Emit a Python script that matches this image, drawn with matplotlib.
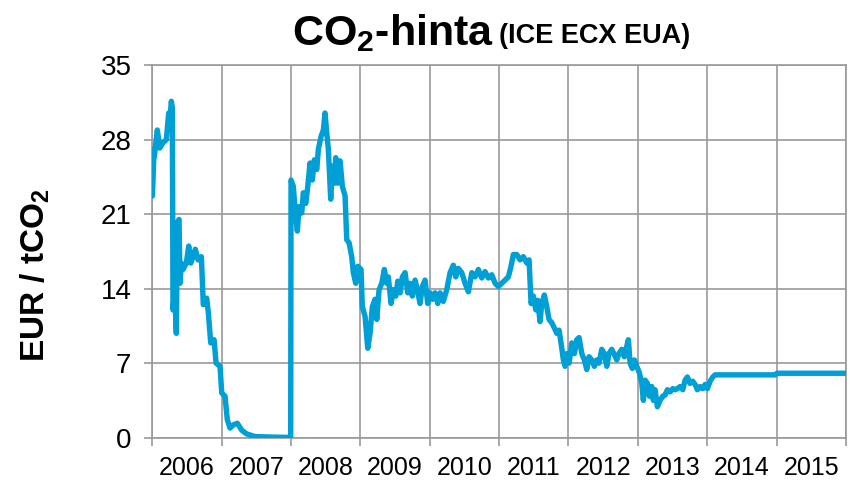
"""CO2 price chart (ICE ECX EUA), 2006-2015
"""
import matplotlib
matplotlib.use("Agg")
import matplotlib.pyplot as plt
import numpy as np

plt.rcParams['font.family'] = ['Liberation Sans', 'DejaVu Sans']
plt.rcParams['mathtext.fontset'] = 'custom'
plt.rcParams['mathtext.rm'] = 'Liberation Sans'
plt.rcParams['mathtext.bf'] = 'Liberation Sans:bold'

# decimal year, price EUR/tCO2
years = [
	2006.000, 2006.010, 2006.025, 2006.029, 2006.072, 2006.107, 2006.154, 2006.202,
	2006.236, 2006.251, 2006.274, 2006.288, 2006.298, 2006.323, 2006.346, 2006.360,
	2006.385, 2006.399, 2006.418, 2006.443, 2006.490, 2006.525, 2006.554, 2006.587,
	2006.620, 2006.659, 2006.707, 2006.735, 2006.784, 2006.808, 2006.842, 2006.890,
	2006.919, 2006.976, 2007.001, 2007.048, 2007.081, 2007.120, 2007.168, 2007.226,
	2007.289, 2007.361, 2007.481, 2007.745, 2007.995,
	2008.000, 2008.033, 2008.058, 2008.091, 2008.115, 2008.154, 2008.177, 2008.212,
	2008.241, 2008.274, 2008.307, 2008.336, 2008.371, 2008.394, 2008.433, 2008.466,
	2008.490, 2008.515, 2008.538, 2008.572, 2008.596, 2008.624, 2008.645, 2008.673,
	2008.707, 2008.740, 2008.779, 2008.803, 2008.837, 2008.875, 2008.898, 2008.933,
	2008.962, 2009.009, 2009.028, 2009.067, 2009.106, 2009.139, 2009.172, 2009.211,
	2009.236, 2009.269, 2009.308, 2009.345, 2009.380, 2009.403, 2009.442, 2009.475,
	2009.510, 2009.539, 2009.572, 2009.605, 2009.644, 2009.683, 2009.716, 2009.749,
	2009.788, 2009.821, 2009.860, 2009.893, 2009.932, 2009.971, 2010.004, 2010.038,
	2010.076, 2010.115, 2010.149, 2010.196, 2010.245, 2010.293, 2010.340, 2010.375,
	2010.412, 2010.461, 2010.509, 2010.557, 2010.606, 2010.653, 2010.701, 2010.750,
	2010.797, 2010.845, 2010.894, 2010.942, 2010.989, 2011.038, 2011.086, 2011.133,
	2011.172, 2011.205, 2011.255, 2011.302, 2011.350, 2011.399, 2011.432, 2011.461,
	2011.494, 2011.529, 2011.557, 2011.590, 2011.615, 2011.652, 2011.687, 2011.720,
	2011.759, 2011.797, 2011.831, 2011.864, 2011.893, 2011.927, 2011.951, 2011.976,
	2012.009, 2012.048, 2012.085, 2012.120, 2012.153, 2012.192, 2012.229, 2012.264,
	2012.297, 2012.336, 2012.373, 2012.408, 2012.441, 2012.480, 2012.517, 2012.552,
	2012.585, 2012.624, 2012.662, 2012.697, 2012.730, 2012.768, 2012.806, 2012.841,
	2012.864, 2012.888, 2012.921, 2012.950, 2012.985, 2013.022, 2013.057, 2013.080,
	2013.105, 2013.138, 2013.167, 2013.201, 2013.224, 2013.249, 2013.282, 2013.321,
	2013.360, 2013.393, 2013.426, 2013.465, 2013.504, 2013.537, 2013.570, 2013.609,
	2013.648, 2013.681, 2013.715, 2013.753, 2013.792, 2013.826, 2013.859, 2013.898,
	2013.937, 2013.970, 2014.003, 2014.042, 2014.081, 2014.114, 2014.979, 2015.008,
	2016.003,
]
price = [
	22.7, 24.2, 27.1, 26.4, 28.9, 27.2, 27.7, 28.0,
	30.5, 29.6, 31.6, 31.0, 12.0, 13.9, 9.8, 20.2,
	20.5, 14.5, 16.4, 15.8, 16.4, 18.0, 16.4, 17.0,
	17.7, 16.7, 17.0, 12.5, 13.1, 11.7, 8.9, 9.2,
	7.0, 6.7, 4.2, 3.9, 1.7, 0.9, 1.2, 1.35,
	0.7, 0.35, 0.1, 0.05, 0.02,
	24.2, 23.6, 21.4, 19.4, 21.7, 21.1, 23.0, 22.0,
	23.6, 25.8, 24.2, 26.1, 25.2, 27.1, 28.3, 28.9,
	30.5, 28.6, 27.1, 22.4, 25.5, 23.9, 26.3, 23.9,
	26.0, 23.6, 22.7, 18.6, 18.3, 17.0, 15.5, 14.5,
	16.1, 15.8, 12.3, 11.4, 8.4, 9.8, 12.3, 13.0,
	11.1, 13.9, 14.5, 15.8, 14.5, 15.1, 12.6, 13.9,
	13.3, 14.7, 13.6, 15.1, 15.5, 13.6, 14.5, 13.3,
	14.8, 13.9, 12.6, 14.2, 14.8, 12.6, 13.6, 13.0,
	13.6, 12.6, 13.6, 12.8, 13.9, 15.5, 16.2, 15.1,
	15.9, 15.5, 14.5, 13.7, 15.5, 15.1, 15.8, 15.0,
	15.6, 15.0, 15.3, 14.5, 14.2, 14.5, 14.8, 15.1,
	16.1, 17.2, 17.2, 16.7, 17.0, 16.4, 16.7, 12.6,
	13.3, 12.0, 12.9, 10.9, 12.6, 13.4, 12.3, 11.1,
	10.8, 10.3, 9.8, 10.1, 8.9, 7.3, 6.7, 7.9,
	7.0, 8.9, 7.9, 9.2, 9.4, 7.9, 7.3, 6.4,
	7.6, 7.3, 6.7, 7.3, 7.0, 8.3, 7.9, 6.7,
	7.9, 8.3, 7.8, 7.3, 7.9, 8.3, 7.6, 8.6,
	9.2, 7.0, 6.5, 7.3, 6.7, 6.1, 5.1, 3.5,
	5.4, 5.1, 3.9, 4.8, 3.5, 4.5, 2.9, 3.5,
	3.9, 4.0, 4.5, 4.3, 4.6, 4.5, 4.6, 4.8,
	4.5, 5.4, 5.7, 5.1, 5.3, 5.0, 4.5, 4.8,
	4.6, 5.0, 4.6, 5.3, 5.7, 5.9, 5.9, 6.05,
	6.05,
]
year_labels = [str(y) for y in range(2006, 2016)]
y_ticks = [0, 7, 14, 21, 28, 35]

line_color = '#00A0D6'
grid_color = '#9A9A9A'

fig = plt.figure(figsize=(8.51, 4.82), dpi=100)
ax = fig.add_axes([0.179, 0.092, 0.815, 0.773])

ax.plot(years, price, color=line_color, lw=3.9, solid_joinstyle='round', solid_capstyle='round', zorder=3)

ax.set_xlim(2006, 2016)
ax.set_ylim(0, 35)

# major ticks = year boundaries (grid), minor ticks = labels in the middle
ax.set_xticks(np.arange(2006, 2017))
ax.set_xticklabels([])
ax.set_xticks(np.arange(2006, 2016) + 0.5, minor=True)
ax.set_xticklabels(year_labels, minor=True, fontsize=18)
ax.tick_params(axis='x', which='minor', length=0, pad=13)
ax.tick_params(axis='x', which='major', length=6, width=1.2, color=grid_color, direction='out')

ax.set_yticks(y_ticks)
ax.set_yticklabels([str(v) for v in y_ticks], fontsize=20)
ax.tick_params(axis='y', length=6, width=1.2, color=grid_color, direction='out', pad=9)

ax.grid(True, which='major', color=grid_color, lw=1.2)
ax.set_axisbelow(True)
for s in ax.spines.values():
	s.set_color(grid_color)
	s.set_linewidth(1.2)

fig.text(292/851, 1-45/482, r"CO$_\mathbf{2}$-hinta", fontsize=31, fontweight='bold', ha='left', va='baseline')
fig.text(499/851, 1-43/482, "(ICE ECX EUA)", fontsize=19.5, fontweight='bold', ha='left', va='baseline')
fig.text(35/851, 1-275/482, r"EUR / tCO$_\mathbf{2}$", fontsize=24, fontweight='bold', rotation=90, ha='center', va='center')

plt.savefig("out.png", dpi=100)
